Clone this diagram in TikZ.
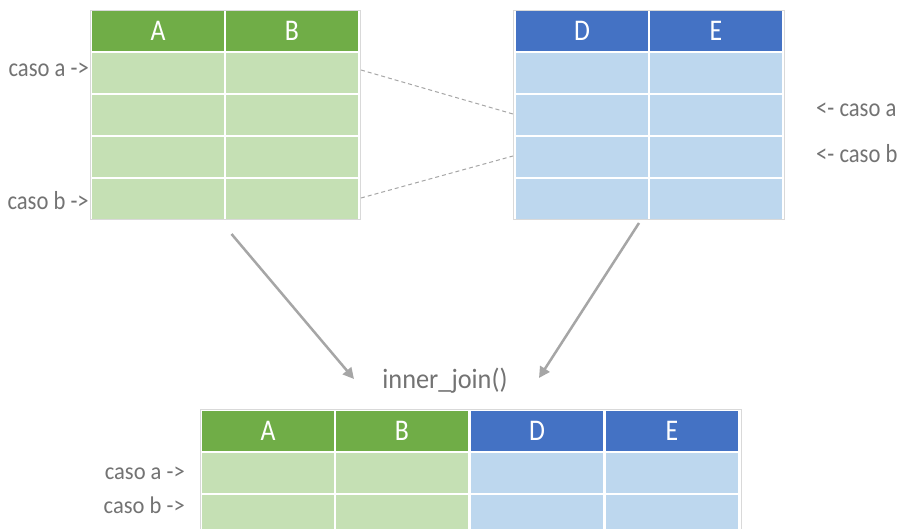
\documentclass[tikz,border=0pt]{standalone}
\usepackage{fontspec}
\setmainfont{Carlito}
\usetikzlibrary{arrows.meta}
\definecolor{ghead}{HTML}{70AD47}
\definecolor{gcell}{HTML}{C5E0B4}
\definecolor{bhead}{HTML}{4472C4}
\definecolor{bcell}{HTML}{BDD7EE}
\definecolor{txtgrey}{HTML}{737373}
\definecolor{lngrey}{HTML}{A6A6A6}
\definecolor{frgrey}{HTML}{D9D9D9}
\newcommand{\sqz}[2]{\scalebox{#1}[1]{#2}}
\tikzset{
  cellbox/.style={minimum width=132pt, minimum height=40pt, inner sep=0pt, outer sep=0pt, draw=none},
  ghd/.style={cellbox, fill=ghead, text=white, font=\fontsize{30}{32}\selectfont},
  bhd/.style={cellbox, fill=bhead, text=white, font=\fontsize{30}{32}\selectfont},
  gc/.style={cellbox, fill=gcell},
  bc/.style={cellbox, fill=bcell},
  lbl/.style={inner sep=0pt, text=txtgrey, font=\fontsize{26}{30}\selectfont},
  blbl/.style={inner sep=0pt, text=txtgrey, font=\fontsize{24}{27}\selectfont},
  frame/.style={draw=frgrey, line width=0.8pt},
  bigarrow/.style={draw=lngrey, line width=2.5pt, -{Triangle[length=11pt,width=11pt]}},
  dashline/.style={draw=lngrey, line width=1pt, dash pattern=on 4pt off 3pt}
}
\begin{document}
\begin{tikzpicture}[x=1pt, y=-1pt]
\clip (0,0) rectangle (899,529);
\fill[white] (0,0) rectangle (899,529);
% frames
\draw[frame] (90.5,10) rectangle (360.5,219.5);
\draw[frame] (513.5,10) rectangle (784,219.5);
\draw[frame] (200,409.5) rectangle (741,540);
% left table
\node[ghd] (lA) at (158,31) {\sqz{0.86}{A}};
\node[ghd] (lB) at (292,31) {\sqz{0.86}{B}};
\foreach \r/\y in {1/73,2/115,3/157,4/199}{
  \node[gc] (lA\r) at (158,\y) {};
  \node[gc] (lB\r) at (292,\y) {};
}
% right table
\node[bhd] (rD) at (582,31) {\sqz{0.86}{D}};
\node[bhd] (rE) at (716,31) {\sqz{0.86}{E}};
\foreach \r/\y in {1/73,2/115,3/157,4/199}{
  \node[bc] (rD\r) at (582,\y) {};
  \node[bc] (rE\r) at (716,\y) {};
}
% bottom table
\node[ghd] (bA) at (268,431) {\sqz{0.86}{A}};
\node[ghd] (bB) at (402,431) {\sqz{0.86}{B}};
\node[bhd] (bD) at (537,431) {\sqz{0.86}{D}};
\node[bhd] (bE) at (672,431) {\sqz{0.86}{E}};
\foreach \r/\y in {1/473,2/515}{
  \node[gc] (bA\r) at (268,\y) {};
  \node[gc] (bB\r) at (402,\y) {};
  \node[bc] (bD\r) at (537,\y) {};
  \node[bc] (bE\r) at (672,\y) {};
}
% labels
\node[lbl, anchor=base east] (la) at (89,77) {\sqz{0.87}{caso a ->}};
\node[lbl, anchor=base east] (lb) at (89,210) {\sqz{0.87}{caso b ->}};
\node[lbl, anchor=base west] (ra) at (816,117) {\sqz{0.87}{<- caso a}};
\node[lbl, anchor=base west] (rb) at (816,163) {\sqz{0.87}{<- caso b}};
\node[blbl, anchor=base east] (ba) at (185,479) {\sqz{0.94}{caso a ->}};
\node[blbl, anchor=base east] (bb) at (185,513) {\sqz{0.94}{caso b ->}};
\node[lbl, font=\fontsize{28}{32}\selectfont, anchor=base] (ij) at (445,388) {\sqz{0.94}{inner\_join()}};
% dashed connectors
\coordinate (da1) at (361,70);
\coordinate (da2) at (513,114);
\coordinate (db1) at (361,198);
\coordinate (db2) at (513,156);
\draw[dashline] (da1) -- (da2);
\draw[dashline] (db1) -- (db2);
% big arrows
\coordinate (s1) at (231.5,234);
\coordinate (t1) at (354,379);
\coordinate (s2) at (639,223);
\coordinate (t2) at (539,378);
\draw[bigarrow] (s1) -- (t1);
\draw[bigarrow] (s2) -- (t2);
\end{tikzpicture}
\end{document}
